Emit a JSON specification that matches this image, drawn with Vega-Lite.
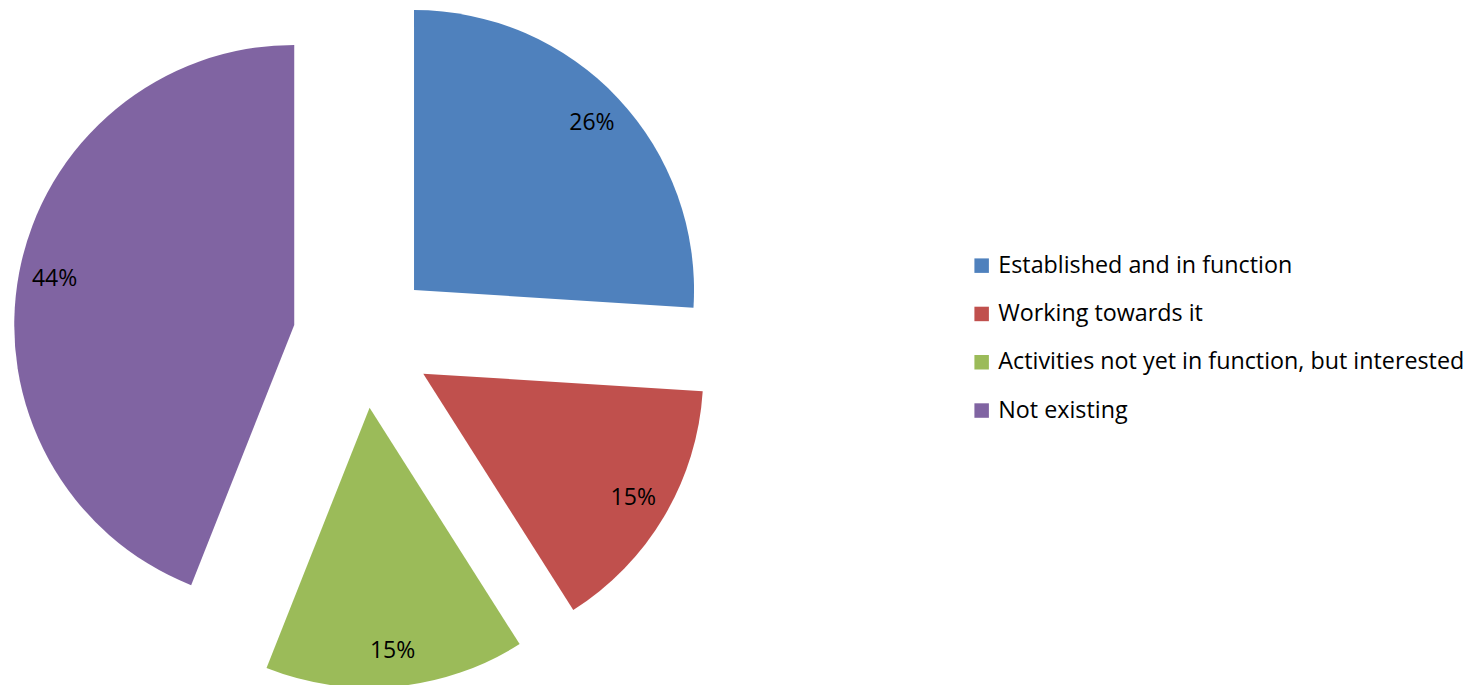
{
  "$schema": "https://vega.github.io/schema/vega-lite/v6.json",
  "width": 1481,
  "height": 685,
  "padding": 0,
  "autosize": {"type": "none"},
  "config": {"view": {"stroke": null}, "font": "Open Sans"},
  "data": {
    "values": [
      {"status": "Established and in function", "share": 0.26},
      {"status": "Working towards it", "share": 0.15},
      {"status": "Activities not yet in function, but interested", "share": 0.15},
      {"status": "Not existing", "share": 0.44}
    ]
  },
  "transform": [
    {"window": [{"op": "sum", "field": "share", "as": "cum"}], "frame": [null, 0]},
    {"calculate": "datum.cum - datum.share", "as": "start"},
    {"calculate": "datum.cum - datum.share / 2", "as": "mid"},
    {"calculate": "70 * sin(2 * PI * datum.mid)", "as": "dx"},
    {"calculate": "70 * cos(2 * PI * datum.mid)", "as": "dy"}
  ],
  "encoding": {
    "x": {"field": "dx", "type": "quantitative", "scale": {"domain": [-363, 1118]}, "axis": null},
    "y": {"field": "dy", "type": "quantitative", "scale": {"domain": [-347, 338]}, "axis": null}
  },
  "layer": [
    {
      "mark": {"type": "arc", "radius": 280},
      "encoding": {
        "theta": {"field": "start", "type": "quantitative", "stack": null, "scale": {"domain": [0, 1]}},
        "theta2": {"field": "cum"},
        "color": {
          "field": "status",
          "type": "nominal",
          "scale": {
            "domain": ["Established and in function", "Working towards it", "Activities not yet in function, but interested", "Not existing"],
            "range": ["#4F81BD", "#C0504D", "#9BBB59", "#8064A2"]
          },
          "legend": {
            "title": null,
            "orient": "none",
            "legendX": 970,
            "legendY": 254,
            "symbolType": "square",
            "symbolSize": 210,
            "symbolStrokeWidth": 0,
            "labelFontSize": 23.3,
            "labelFont": "Open Sans",
            "labelColor": "#000000",
            "labelOffset": 5,
            "rowPadding": 24.3,
            "labelLimit": 600
          }
        }
      }
    },
    {
      "mark": {"type": "text", "radius": 244, "fontSize": 23, "font": "Open Sans", "color": "#000000"},
      "encoding": {
        "theta": {"field": "mid", "type": "quantitative", "stack": null, "scale": {"domain": [0, 1]}},
        "text": {"field": "share", "type": "quantitative", "format": ".0%"}
      }
    }
  ]
}
